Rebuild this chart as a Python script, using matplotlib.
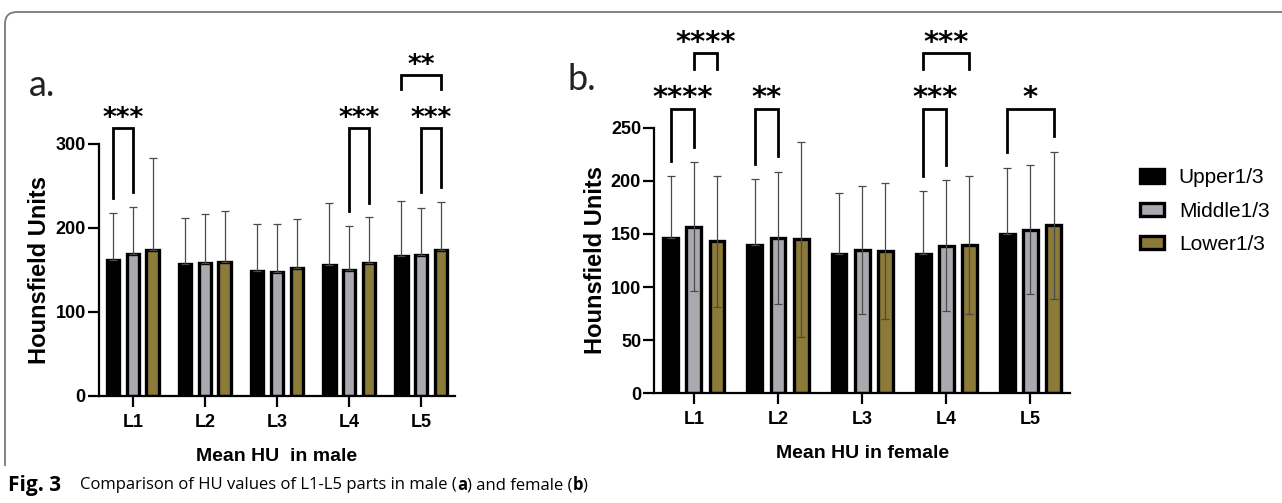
import matplotlib
matplotlib.use("Agg")
import matplotlib.pyplot as plt
import numpy as np
from matplotlib.patches import Patch, PathPatch
from matplotlib.path import Path

plt.rcParams['font.family'] = ['Liberation Sans', 'DejaVu Sans']

levels = ["L1", "L2", "L3", "L4", "L5"]
groups = ["Upper1/3", "Middle1/3", "Lower1/3"]

# Male (panel a): means and SD
male_upper = [162, 157, 149, 156, 166]
male_middle = [169, 158, 148, 150, 168]
male_lower = [174, 159, 152, 158, 174]
male_upper_sd = [56, 55, 56, 73, 66]
male_middle_sd = [56, 58, 56, 52, 56]
male_lower_sd = [109, 61, 58, 55, 57]

# Female (panel b): means and SD
female_upper = [146, 140, 131, 131, 150]
female_middle = [157, 146, 135, 139, 154]
female_lower = [143, 145, 134, 140, 158]
female_upper_sd = [59, 62, 58, 59, 62]
female_middle_sd = [61, 62, 60, 62, 61]
female_lower_sd = [62, 92, 64, 65, 69]

# significance annotations: (level index, bar i, bar j, bracket y, left leg y, right leg y, stars)
male_sig = [
    (0, 0, 1, 319, 236, 243, "***"),
    (3, 1, 2, 319, 220, 230, "***"),
    (4, 1, 2, 319, 243, 249, "***"),
    (4, 0, 2, 382, 365, 365, "**"),
]
female_sig = [
    (0, 0, 1, 268, 219, 232, "****"),
    (0, 1, 2, 320, 305, 305, "****"),
    (1, 0, 1, 268, 216, 223, "**"),
    (3, 0, 1, 268, 205, 215, "***"),
    (3, 0, 2, 320, 305, 305, "***"),
    (4, 0, 2, 268, 227, 242, "*"),
]

colors = ["#000000", "#a9a9b0", "#8c7a38"]
W, H = 1282, 503
fig = plt.figure(figsize=(W / 100, H / 100), dpi=100)

def fx(px):
    return px / W

def fy(py):
    return 1 - py / H

ax_a = fig.add_axes([fx(99), fy(396), fx(455 - 99), fy(143.7) - fy(396)])
ax_b = fig.add_axes([fx(654.3), fy(393.3), fx(1070 - 654.3), fy(127.7) - fy(393.3)])

offsets = [-0.275, 0.0, 0.275]
bw = 0.175

def draw(ax, means, sds, sig, ymax, yticks, xlabel, both_dirs, star_size, star_off):
    x = np.arange(len(levels))
    for k in range(3):
        xs = x + offsets[k]
        ax.bar(xs, means[k], width=bw, color=colors[k], edgecolor="black",
               linewidth=2.4, zorder=2)
        if both_dirs and k > 0:
            yerr = [sds[k], sds[k]]
        else:
            yerr = [np.zeros(len(sds[k])), sds[k]]
        ax.errorbar(xs, means[k], yerr=yerr, fmt="none", ecolor="#4a4a4a",
                    elinewidth=0.9, capsize=3, capthick=0.9, zorder=3)
    for (li, i, j, top, yl, yr, stars) in sig:
        x1 = li + offsets[i]
        x2 = li + offsets[j]
        ax.plot([x1, x1, x2, x2], [yl, top, top, yr], color="black", lw=2.0,
                clip_on=False, solid_joinstyle="miter", zorder=4)
        ax.annotate(stars, xy=((x1 + x2) / 2, top), xytext=(0, star_off),
                    textcoords="offset points", ha="center", va="baseline",
                    fontsize=star_size, family="DejaVu Sans", fontweight="bold",
                    annotation_clip=False)
    ax.set_xlim(-0.47, 4.47)
    ax.set_ylim(0, ymax)
    ax.set_yticks(yticks)
    ax.set_xticks(x)
    ax.set_xticklabels(levels)
    for s in ["top", "right"]:
        ax.spines[s].set_visible(False)
    for s in ["left", "bottom"]:
        ax.spines[s].set_linewidth(1.6)
    ax.tick_params(axis="both", width=1.6, length=8, labelsize=13, pad=1.5)
    ax.tick_params(axis="x", pad=5)
    for lab in ax.get_xticklabels() + ax.get_yticklabels():
        lab.set_fontweight("bold")
    ax.set_ylabel("Hounsfield Units", fontsize=17, fontweight="bold", labelpad=3)
    ax.set_xlabel(xlabel, fontsize=14, fontweight="bold", labelpad=12)
    ax.patch.set_alpha(0)

draw(ax_a, [male_upper, male_middle, male_lower],
     [male_upper_sd, male_middle_sd, male_lower_sd], male_sig, 300,
     [0, 100, 200, 300], "Mean HU  in male", False, 19, 1)
draw(ax_b, [female_upper, female_middle, female_lower],
     [female_upper_sd, female_middle_sd, female_lower_sd], female_sig, 250,
     [0, 50, 100, 150, 200, 250], "Mean HU in female", True, 21, 1.5)

fig.text(fx(29), fy(86), "a.", fontsize=26, family="Lato", color="#222222",
         ha="left", va="center")
fig.text(fx(567), fy(80), "b.", fontsize=26, family="Lato", color="#222222",
         ha="left", va="center")

handles = [Patch(facecolor=c, edgecolor="black", linewidth=2.4) for c in colors]
fig.legend(handles, groups, loc="upper left", bbox_to_anchor=(fx(1132), fy(160)),
           frameon=False, fontsize=15, handlelength=1.15, handleheight=0.6,
           handletextpad=0.7, labelspacing=0.68, borderaxespad=0)

# caption
cap_y = fy(485)
cap_font = "Open Sans"
fig.canvas.draw()
r = fig.canvas.get_renderer()
def put(txt, weight, xpx, fs):
    tt = fig.text(fx(xpx), cap_y, txt, fontsize=fs, fontweight=weight,
                  family=cap_font, ha="left", va="center")
    bb = tt.get_window_extent(renderer=r)
    return xpx + bb.width
put("Fig. 3", "bold", 8, 15)
xc = 80
xc = put("Comparison of HU values of L1-L5 parts in male (", "normal", xc, 12)
xc = put("a", "bold", xc, 12)
xc = put(") and female (", "normal", xc, 12)
xc = put("b", "bold", xc, 12)
xc = put(")", "normal", xc, 12)

# frame
verts = [(5, 466), (5, 24), (5, 12), (17, 12), (1282, 12)]
codes = [Path.MOVETO, Path.LINETO, Path.CURVE3, Path.CURVE3, Path.LINETO]
verts = [(fx(a), fy(b)) for a, b in verts]
fig.add_artist(PathPatch(Path(verts, codes), fill=False, edgecolor="#7a7a7a",
                         lw=1.3, transform=fig.transFigure))

fig.savefig("out.png", dpi=100)
